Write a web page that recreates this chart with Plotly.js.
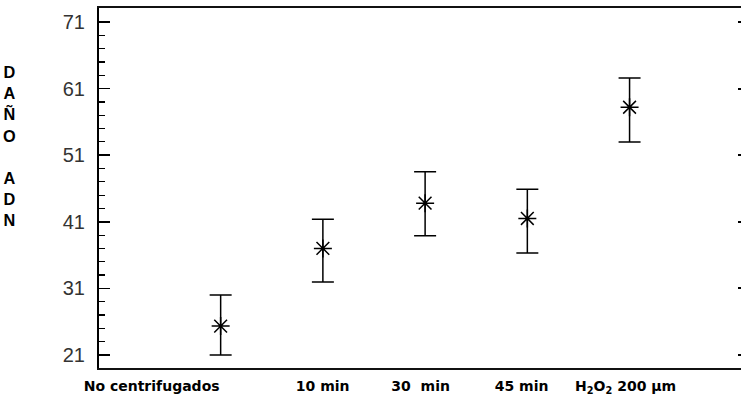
<!DOCTYPE html>
<html>
<head>
<meta charset="utf-8">
<script src="https://cdn.plot.ly/plotly-3.0.1.min.js"></script>
<style>html,body{margin:0;padding:0;background:#fff;}#chart{width:741px;height:404px;}</style>
</head>
<body>
<div id="chart"></div>
<script>
// Data
var categories = ['No centrifugados', '10 min', '30  min', '45 min', 'H<sub>2</sub>O<sub>2</sub> 200 µm'];
var means = [25.35, 37.0, 43.8, 41.5, 58.2];
var upper = [30.0, 41.4, 48.5, 45.9, 62.6];
var lower = [21.0, 31.96, 38.9, 36.3, 53.0];
var yTickVals = [21, 31, 41, 51, 61, 71];
var yTitleLetters = ['D', 'A', 'Ñ', 'O', ' ', 'A', 'D', 'N'];

// label positions (layout), relative to category index
var labelOffsets = [-0.675, -0.002, -0.044, -0.056, -0.039];

var idx = categories.map(function (c, i) { return i; });
var errPlus = means.map(function (m, i) { return upper[i] - m; });
var errMinus = means.map(function (m, i) { return m - lower[i]; });

var yRange = [19.05, 73.1];

var trace = {
  x: idx,
  y: means,
  type: 'scatter',
  mode: 'markers',
  marker: { symbol: 'asterisk-open', size: 15, color: '#000', line: { color: '#000', width: 1.5 } },
  error_y: { type: 'data', symmetric: false, array: errPlus, arrayminus: errMinus, color: '#000', thickness: 1.5, width: 11 },
  hoverinfo: 'x+y',
  showlegend: false
};
var ghost = {
  x: idx, y: means, type: 'scatter', mode: 'markers', yaxis: 'y2',
  marker: { opacity: 0 }, hoverinfo: 'skip', showlegend: false
};

var layout = {
  width: 741, height: 404,
  margin: { l: 99, r: 0, t: 8, b: 36 },
  paper_bgcolor: '#fff', plot_bgcolor: '#fff',
  xaxis: {
    type: 'linear', range: [-1.19, 5.09],
    showgrid: false, zeroline: false,
    showline: true, linecolor: '#111', linewidth: 2, mirror: true,
    ticks: '',
    tickvals: idx.map(function (i) { return i + labelOffsets[i]; }),
    ticktext: categories,
    tickfont: { family: 'DejaVu Sans, Liberation Sans, Arial, sans-serif', size: 14, color: '#000', weight: 'bold' },
    ticklabelstandoff: 4
  },
  yaxis: {
    range: yRange, showgrid: false, zeroline: false,
    showline: true, linecolor: '#000', linewidth: 2,
    tickvals: yTickVals, ticks: 'inside', ticklen: 11, tickwidth: 1.5, tickcolor: '#000',
    minor: { dtick: 2, tick0: 21, ticks: 'inside', ticklen: 6, tickwidth: 1.2, tickcolor: '#000' },
    tickfont: { family: 'Liberation Sans, Arial, sans-serif', size: 20, color: '#333' },
    ticklabelstandoff: 8
  },
  yaxis2: {
    overlaying: 'y', side: 'right', range: yRange, showgrid: false, zeroline: false,
    showline: false, tickvals: yTickVals, ticks: 'inside', ticklen: 3, tickwidth: 2, tickcolor: '#000',
    showticklabels: false
  },
  annotations: [{
    xref: 'paper', yref: 'paper', x: -0.1395, y: 0.852, xanchor: 'center', yanchor: 'top',
    text: yTitleLetters.join('<br>'), showarrow: false, align: 'center',
    font: { family: 'Liberation Sans Narrow, Liberation Sans, Arial, sans-serif', size: 16.3, color: '#000', weight: 'bold' }
  }]
};

Plotly.newPlot('chart', [trace, ghost], layout, { displayModeBar: false, staticPlot: true });
</script>
</body>
</html>
